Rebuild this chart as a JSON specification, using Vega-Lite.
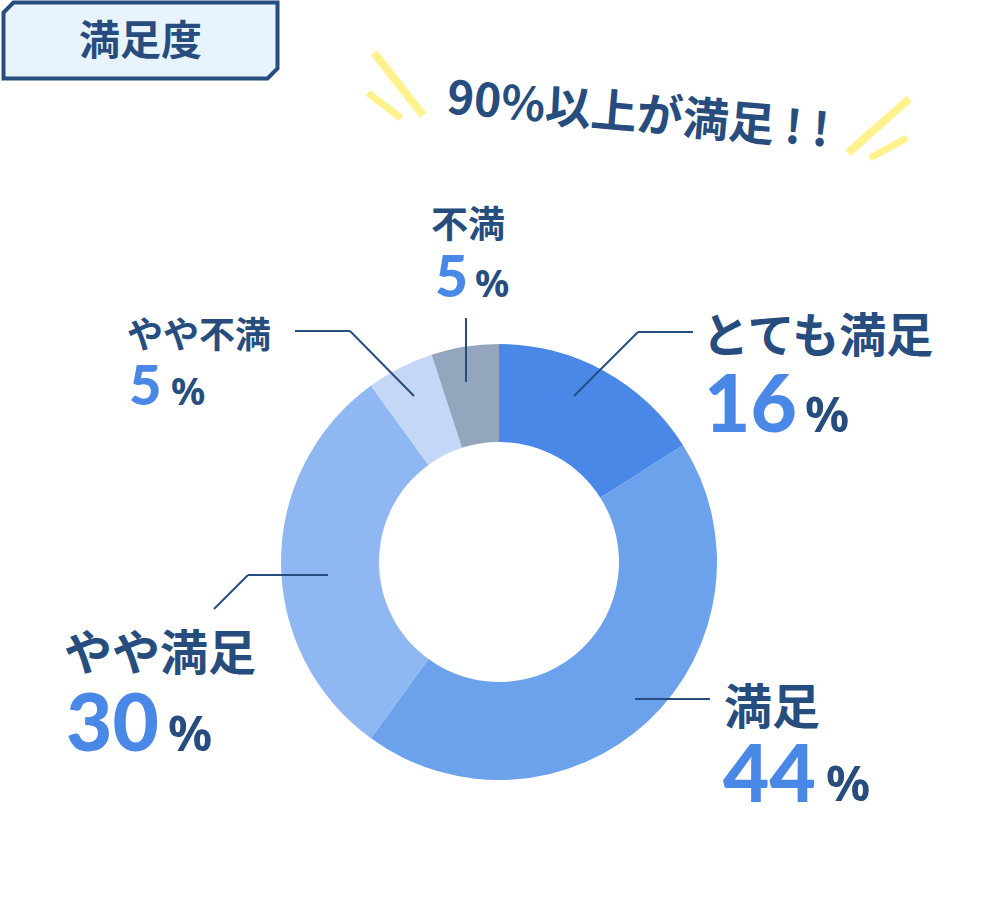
{
  "$schema": "https://vega.github.io/schema/vega-lite/v6.json",
  "width": 997,
  "height": 913,
  "autosize": {"type": "none"},
  "padding": {"left": 0, "top": 0, "right": 0, "bottom": 0},
  "background": "white",
  "config": {"view": {"stroke": null}},
  "datasets": {
    "sat": [
      {"category": "とても満足", "value": 16},
      {"category": "満足", "value": 44},
      {"category": "やや満足", "value": 30},
      {"category": "やや不満", "value": 5},
      {"category": "不満", "value": 5}
    ],
    "one": [{"label": "満足度", "headline": "90%以上が満足 ! !"}]
  },
  "layer": [
    {
      "data": {"name": "one"},
      "mark": {"type": "point", "shape": "M -0.927 -0.2774 L 1 -0.2774 L 1 0.2044 L 0.927 0.2774 L -1 0.2774 L -1 -0.2044 Z", "size": 75076, "filled": true, "fill": "#e8f4fd", "stroke": "#264d7e", "strokeWidth": 4, "strokeJoin": "miter", "opacity": 1},
      "encoding": {
        "x": {"datum": 140.5, "type": "quantitative", "scale": {"domain": [0, 997], "nice": false, "zero": false}, "axis": null},
        "y": {"datum": 40.5, "type": "quantitative", "scale": {"domain": [0, 913], "nice": false, "zero": false, "reverse": true}, "axis": null}
      }
    },
    {
      "data": {"name": "one"},
      "mark": {"type": "text", "align": "center", "baseline": "alphabetic", "font": "Noto Sans CJK JP", "fontWeight": "bold", "fontSize": 41, "color": "#264d7e"},
      "encoding": {
        "text": {"field": "label"},
        "x": {"datum": 140.5, "type": "quantitative", "scale": {"domain": [0, 997], "nice": false, "zero": false}, "axis": null},
        "y": {"datum": 55, "type": "quantitative", "scale": {"domain": [0, 913], "nice": false, "zero": false, "reverse": true}, "axis": null}
      }
    },
    {
      "data": {"name": "one"},
      "layer": [
        {"mark": {"type": "rule", "color": "#fff28c", "strokeWidth": 8, "strokeCap": "butt"},
         "encoding": {
           "x": {"datum": 374, "type": "quantitative", "scale": {"domain": [0, 997], "nice": false, "zero": false}, "axis": null},
           "y": {"datum": 53, "type": "quantitative", "scale": {"domain": [0, 913], "nice": false, "zero": false, "reverse": true}, "axis": null},
           "x2": {"datum": 423}, "y2": {"datum": 115}}},
        {"mark": {"type": "rule", "color": "#fff28c", "strokeWidth": 7, "strokeCap": "butt"},
         "encoding": {
           "x": {"datum": 368, "type": "quantitative", "scale": {"domain": [0, 997], "nice": false, "zero": false}, "axis": null},
           "y": {"datum": 93, "type": "quantitative", "scale": {"domain": [0, 913], "nice": false, "zero": false, "reverse": true}, "axis": null},
           "x2": {"datum": 401}, "y2": {"datum": 118}}},
        {"mark": {"type": "rule", "color": "#fff28c", "strokeWidth": 8, "strokeCap": "butt"},
         "encoding": {
           "x": {"datum": 909, "type": "quantitative", "scale": {"domain": [0, 997], "nice": false, "zero": false}, "axis": null},
           "y": {"datum": 99, "type": "quantitative", "scale": {"domain": [0, 913], "nice": false, "zero": false, "reverse": true}, "axis": null},
           "x2": {"datum": 848}, "y2": {"datum": 153}}},
        {"mark": {"type": "rule", "color": "#fff28c", "strokeWidth": 7, "strokeCap": "butt"},
         "encoding": {
           "x": {"datum": 907, "type": "quantitative", "scale": {"domain": [0, 997], "nice": false, "zero": false}, "axis": null},
           "y": {"datum": 138, "type": "quantitative", "scale": {"domain": [0, 913], "nice": false, "zero": false, "reverse": true}, "axis": null},
           "x2": {"datum": 870}, "y2": {"datum": 158}}},
        {"mark": {"type": "text", "align": "center", "baseline": "middle", "font": "Noto Sans CJK JP", "fontWeight": "bold", "fontSize": 46, "angle": 5, "color": "#264d7e"},
         "encoding": {
           "text": {"field": "headline"},
           "x": {"datum": 638, "type": "quantitative", "scale": {"domain": [0, 997], "nice": false, "zero": false}, "axis": null},
           "y": {"datum": 116, "type": "quantitative", "scale": {"domain": [0, 913], "nice": false, "zero": false, "reverse": true}, "axis": null}}}
      ]
    },
    {
      "data": {"name": "sat"},
      "transform": [{"calculate": "indexof(['とても満足','満足','やや満足','やや不満','不満'], datum.category)", "as": "rank"}],
      "mark": {"type": "arc", "innerRadius": 120, "outerRadius": 218},
      "encoding": {
        "theta": {"field": "value", "type": "quantitative", "stack": true},
        "order": {"field": "rank", "type": "quantitative"},
        "color": {"field": "category", "type": "nominal", "scale": {"domain": ["とても満足", "満足", "やや満足", "やや不満", "不満"], "range": ["#4a88e8", "#6ca1eb", "#8fb7f2", "#c4d7f6", "#94a6be"]}, "legend": null},
        "x": {"datum": 499, "type": "quantitative", "scale": {"domain": [0, 997], "nice": false, "zero": false}, "axis": null},
        "y": {"datum": 562, "type": "quantitative", "scale": {"domain": [0, 913], "nice": false, "zero": false, "reverse": true}, "axis": null}
      }
    },
    {
      "data": {"name": "one"},
      "layer": [
        {"mark": {"type": "rule", "color": "#264d7e", "strokeWidth": 2},
         "encoding": {"x": {"datum": 574, "type": "quantitative", "scale": {"domain": [0, 997], "nice": false, "zero": false}, "axis": null},
           "y": {"datum": 396, "type": "quantitative", "scale": {"domain": [0, 913], "nice": false, "zero": false, "reverse": true}, "axis": null},
           "x2": {"datum": 638}, "y2": {"datum": 332}}},
        {"mark": {"type": "rule", "color": "#264d7e", "strokeWidth": 2},
         "encoding": {"x": {"datum": 638, "type": "quantitative", "scale": {"domain": [0, 997], "nice": false, "zero": false}, "axis": null},
           "y": {"datum": 332, "type": "quantitative", "scale": {"domain": [0, 913], "nice": false, "zero": false, "reverse": true}, "axis": null},
           "x2": {"datum": 693}, "y2": {"datum": 332}}},
        {"mark": {"type": "rule", "color": "#264d7e", "strokeWidth": 2},
         "encoding": {"x": {"datum": 466, "type": "quantitative", "scale": {"domain": [0, 997], "nice": false, "zero": false}, "axis": null},
           "y": {"datum": 318, "type": "quantitative", "scale": {"domain": [0, 913], "nice": false, "zero": false, "reverse": true}, "axis": null},
           "x2": {"datum": 466}, "y2": {"datum": 382}}},
        {"mark": {"type": "rule", "color": "#264d7e", "strokeWidth": 2},
         "encoding": {"x": {"datum": 295, "type": "quantitative", "scale": {"domain": [0, 997], "nice": false, "zero": false}, "axis": null},
           "y": {"datum": 331, "type": "quantitative", "scale": {"domain": [0, 913], "nice": false, "zero": false, "reverse": true}, "axis": null},
           "x2": {"datum": 350}, "y2": {"datum": 331}}},
        {"mark": {"type": "rule", "color": "#264d7e", "strokeWidth": 2},
         "encoding": {"x": {"datum": 350, "type": "quantitative", "scale": {"domain": [0, 997], "nice": false, "zero": false}, "axis": null},
           "y": {"datum": 331, "type": "quantitative", "scale": {"domain": [0, 913], "nice": false, "zero": false, "reverse": true}, "axis": null},
           "x2": {"datum": 414}, "y2": {"datum": 396}}},
        {"mark": {"type": "rule", "color": "#264d7e", "strokeWidth": 2},
         "encoding": {"x": {"datum": 214, "type": "quantitative", "scale": {"domain": [0, 997], "nice": false, "zero": false}, "axis": null},
           "y": {"datum": 609, "type": "quantitative", "scale": {"domain": [0, 913], "nice": false, "zero": false, "reverse": true}, "axis": null},
           "x2": {"datum": 248}, "y2": {"datum": 575}}},
        {"mark": {"type": "rule", "color": "#264d7e", "strokeWidth": 2},
         "encoding": {"x": {"datum": 248, "type": "quantitative", "scale": {"domain": [0, 997], "nice": false, "zero": false}, "axis": null},
           "y": {"datum": 575, "type": "quantitative", "scale": {"domain": [0, 913], "nice": false, "zero": false, "reverse": true}, "axis": null},
           "x2": {"datum": 328}, "y2": {"datum": 575}}},
        {"mark": {"type": "rule", "color": "#264d7e", "strokeWidth": 2},
         "encoding": {"x": {"datum": 635, "type": "quantitative", "scale": {"domain": [0, 997], "nice": false, "zero": false}, "axis": null},
           "y": {"datum": 699, "type": "quantitative", "scale": {"domain": [0, 913], "nice": false, "zero": false, "reverse": true}, "axis": null},
           "x2": {"datum": 710}, "y2": {"datum": 699}}}
      ]
    },
    {
      "data": {"name": "sat"},
      "transform": [{"filter": "datum.category === 'とても満足'"}],
      "layer": [
        {"mark": {"type": "text", "align": "left", "baseline": "alphabetic", "font": "Noto Sans CJK JP", "fontWeight": "bold", "fontSize": 47, "color": "#264d7e"},
         "encoding": {"text": {"field": "category"},
           "x": {"datum": 702, "type": "quantitative", "scale": {"domain": [0, 997], "nice": false, "zero": false}, "axis": null},
           "y": {"datum": 352, "type": "quantitative", "scale": {"domain": [0, 913], "nice": false, "zero": false, "reverse": true}, "axis": null}}},
        {"mark": {"type": "text", "align": "left", "baseline": "alphabetic", "font": "Lato", "fontWeight": 900, "fontSize": 80, "color": "#4a88e8"},
         "encoding": {"text": {"field": "value"},
           "x": {"datum": 704, "type": "quantitative", "scale": {"domain": [0, 997], "nice": false, "zero": false}, "axis": null},
           "y": {"datum": 432, "type": "quantitative", "scale": {"domain": [0, 913], "nice": false, "zero": false, "reverse": true}, "axis": null}}},
        {"mark": {"type": "text", "align": "left", "baseline": "alphabetic", "font": "Noto Sans", "fontWeight": "bold", "fontSize": 49, "color": "#264d7e", "text": "%"},
         "encoding": {
           "x": {"datum": 805, "type": "quantitative", "scale": {"domain": [0, 997], "nice": false, "zero": false}, "axis": null},
           "y": {"datum": 432, "type": "quantitative", "scale": {"domain": [0, 913], "nice": false, "zero": false, "reverse": true}, "axis": null}}}
      ]
    },
    {
      "data": {"name": "sat"},
      "transform": [{"filter": "datum.category === '満足'"}],
      "layer": [
        {"mark": {"type": "text", "align": "left", "baseline": "alphabetic", "font": "Noto Sans CJK JP", "fontWeight": "bold", "fontSize": 48, "color": "#264d7e"},
         "encoding": {"text": {"field": "category"},
           "x": {"datum": 724, "type": "quantitative", "scale": {"domain": [0, 997], "nice": false, "zero": false}, "axis": null},
           "y": {"datum": 724, "type": "quantitative", "scale": {"domain": [0, 913], "nice": false, "zero": false, "reverse": true}, "axis": null}}},
        {"mark": {"type": "text", "align": "left", "baseline": "alphabetic", "font": "Lato", "fontWeight": 900, "fontSize": 80, "color": "#4a88e8"},
         "encoding": {"text": {"field": "value"},
           "x": {"datum": 723, "type": "quantitative", "scale": {"domain": [0, 997], "nice": false, "zero": false}, "axis": null},
           "y": {"datum": 802, "type": "quantitative", "scale": {"domain": [0, 913], "nice": false, "zero": false, "reverse": true}, "axis": null}}},
        {"mark": {"type": "text", "align": "left", "baseline": "alphabetic", "font": "Noto Sans", "fontWeight": "bold", "fontSize": 49, "color": "#264d7e", "text": "%"},
         "encoding": {
           "x": {"datum": 826, "type": "quantitative", "scale": {"domain": [0, 997], "nice": false, "zero": false}, "axis": null},
           "y": {"datum": 801, "type": "quantitative", "scale": {"domain": [0, 913], "nice": false, "zero": false, "reverse": true}, "axis": null}}}
      ]
    },
    {
      "data": {"name": "sat"},
      "transform": [{"filter": "datum.category === 'やや満足'"}],
      "layer": [
        {"mark": {"type": "text", "align": "left", "baseline": "alphabetic", "font": "Noto Sans CJK JP", "fontWeight": "bold", "fontSize": 48, "color": "#264d7e"},
         "encoding": {"text": {"field": "category"},
           "x": {"datum": 64, "type": "quantitative", "scale": {"domain": [0, 997], "nice": false, "zero": false}, "axis": null},
           "y": {"datum": 670, "type": "quantitative", "scale": {"domain": [0, 913], "nice": false, "zero": false, "reverse": true}, "axis": null}}},
        {"mark": {"type": "text", "align": "left", "baseline": "alphabetic", "font": "Lato", "fontWeight": 900, "fontSize": 80, "color": "#4a88e8"},
         "encoding": {"text": {"field": "value"},
           "x": {"datum": 66, "type": "quantitative", "scale": {"domain": [0, 997], "nice": false, "zero": false}, "axis": null},
           "y": {"datum": 751, "type": "quantitative", "scale": {"domain": [0, 913], "nice": false, "zero": false, "reverse": true}, "axis": null}}},
        {"mark": {"type": "text", "align": "left", "baseline": "alphabetic", "font": "Noto Sans", "fontWeight": "bold", "fontSize": 49, "color": "#264d7e", "text": "%"},
         "encoding": {
           "x": {"datum": 168, "type": "quantitative", "scale": {"domain": [0, 997], "nice": false, "zero": false}, "axis": null},
           "y": {"datum": 751, "type": "quantitative", "scale": {"domain": [0, 913], "nice": false, "zero": false, "reverse": true}, "axis": null}}}
      ]
    },
    {
      "data": {"name": "sat"},
      "transform": [{"filter": "datum.category === 'やや不満'"}],
      "layer": [
        {"mark": {"type": "text", "align": "left", "baseline": "alphabetic", "font": "Noto Sans CJK JP", "fontWeight": "bold", "fontSize": 36, "color": "#264d7e"},
         "encoding": {"text": {"field": "category"},
           "x": {"datum": 127, "type": "quantitative", "scale": {"domain": [0, 997], "nice": false, "zero": false}, "axis": null},
           "y": {"datum": 348, "type": "quantitative", "scale": {"domain": [0, 913], "nice": false, "zero": false, "reverse": true}, "axis": null}}},
        {"mark": {"type": "text", "align": "left", "baseline": "alphabetic", "font": "Lato", "fontWeight": 900, "fontSize": 56, "color": "#4a88e8"},
         "encoding": {"text": {"field": "value"},
           "x": {"datum": 129, "type": "quantitative", "scale": {"domain": [0, 997], "nice": false, "zero": false}, "axis": null},
           "y": {"datum": 405, "type": "quantitative", "scale": {"domain": [0, 913], "nice": false, "zero": false, "reverse": true}, "axis": null}}},
        {"mark": {"type": "text", "align": "left", "baseline": "alphabetic", "font": "Noto Sans", "fontWeight": "bold", "fontSize": 38, "color": "#264d7e", "text": "%"},
         "encoding": {
           "x": {"datum": 171, "type": "quantitative", "scale": {"domain": [0, 997], "nice": false, "zero": false}, "axis": null},
           "y": {"datum": 405, "type": "quantitative", "scale": {"domain": [0, 913], "nice": false, "zero": false, "reverse": true}, "axis": null}}}
      ]
    },
    {
      "data": {"name": "sat"},
      "transform": [{"filter": "datum.category === '不満'"}],
      "layer": [
        {"mark": {"type": "text", "align": "left", "baseline": "alphabetic", "font": "Noto Sans CJK JP", "fontWeight": "bold", "fontSize": 37, "color": "#264d7e"},
         "encoding": {"text": {"field": "category"},
           "x": {"datum": 431, "type": "quantitative", "scale": {"domain": [0, 997], "nice": false, "zero": false}, "axis": null},
           "y": {"datum": 238, "type": "quantitative", "scale": {"domain": [0, 913], "nice": false, "zero": false, "reverse": true}, "axis": null}}},
        {"mark": {"type": "text", "align": "left", "baseline": "alphabetic", "font": "Lato", "fontWeight": 900, "fontSize": 57, "color": "#4a88e8"},
         "encoding": {"text": {"field": "value"},
           "x": {"datum": 435, "type": "quantitative", "scale": {"domain": [0, 997], "nice": false, "zero": false}, "axis": null},
           "y": {"datum": 297, "type": "quantitative", "scale": {"domain": [0, 913], "nice": false, "zero": false, "reverse": true}, "axis": null}}},
        {"mark": {"type": "text", "align": "left", "baseline": "alphabetic", "font": "Noto Sans", "fontWeight": "bold", "fontSize": 38, "color": "#264d7e", "text": "%"},
         "encoding": {
           "x": {"datum": 475, "type": "quantitative", "scale": {"domain": [0, 997], "nice": false, "zero": false}, "axis": null},
           "y": {"datum": 297, "type": "quantitative", "scale": {"domain": [0, 913], "nice": false, "zero": false, "reverse": true}, "axis": null}}}
      ]
    }
  ]
}
